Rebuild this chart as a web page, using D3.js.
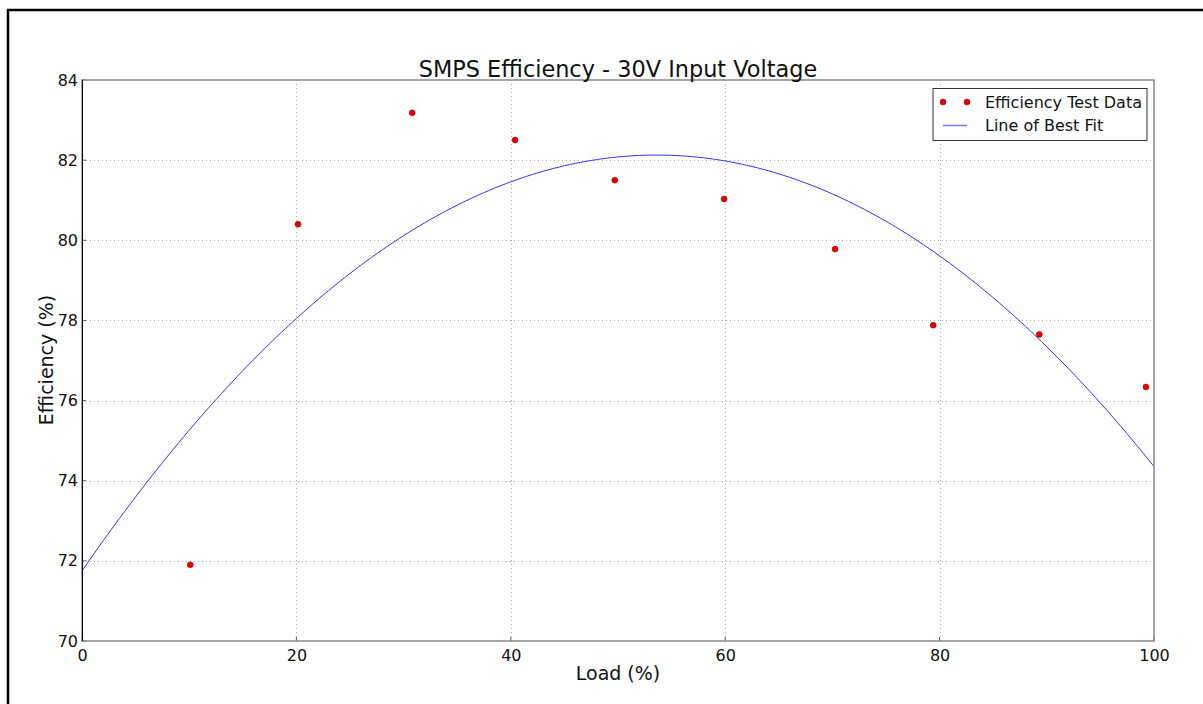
<!DOCTYPE html>
<html>
<head>
<meta charset="utf-8">
<script src="https://cdn.jsdelivr.net/npm/d3@7"></script>
<style>
  html, body { margin: 0; padding: 0; background: #fff; }
  svg { display: block; font-family: "DejaVu Sans", sans-serif; }
</style>
</head>
<body>
<svg id="chart" width="1203" height="704"></svg>
<script>
// ---- data ----
const loadPct = [10.1, 20.15, 30.8, 40.4, 49.7, 59.9, 70.25, 79.4, 89.3, 99.25];
const efficiency = [71.9, 80.4, 83.18, 82.5, 81.5, 81.03, 79.78, 77.88, 77.65, 76.34];
const xTicks = [0, 20, 40, 60, 80, 100];
const yTicks = [70, 72, 74, 76, 78, 80, 82, 84];
const title = "SMPS Efficiency - 30V Input Voltage";
const xLabel = "Load (%)";
const yLabel = "Efficiency (%)";
const legendLabels = ["Efficiency Test Data", "Line of Best Fit"];

// quadratic least-squares fit to the test data
function quadFit(xs, ys) {
  let S = [0,0,0,0,0], T = [0,0,0];
  xs.forEach((x, i) => {
    for (let k = 0; k < 5; k++) S[k] += Math.pow(x, k);
    for (let k = 0; k < 3; k++) T[k] += ys[i] * Math.pow(x, k);
  });
  const A = [[S[0],S[1],S[2],T[0]],[S[1],S[2],S[3],T[1]],[S[2],S[3],S[4],T[2]]];
  for (let i = 0; i < 3; i++) {
    let p = i;
    for (let r = i+1; r < 3; r++) if (Math.abs(A[r][i]) > Math.abs(A[p][i])) p = r;
    [A[i], A[p]] = [A[p], A[i]];
    for (let r = 0; r < 3; r++) if (r !== i) {
      const f = A[r][i] / A[i][i];
      for (let c = i; c < 4; c++) A[r][c] -= f * A[i][c];
    }
  }
  return [A[0][3]/A[0][0], A[1][3]/A[1][1], A[2][3]/A[2][2]];
}
const coef = quadFit(loadPct, efficiency);
const fitX = d3.range(0, 100.001, 0.5);
const fitPts = fitX.map(x => [x, coef[0] + coef[1]*x + coef[2]*x*x]);

// ---- layout ----
const svg = d3.select("#chart");
const L = 82, R = 1154, T = 80, B = 641;
const x = d3.scaleLinear().domain([0, 100]).range([L, R]);
const y = d3.scaleLinear().domain([70, 84]).range([B, T]);

// figure border
svg.append("rect").attr("x", 8).attr("y", 10).attr("width", 1400).attr("height", 900)
  .attr("fill", "none").attr("stroke", "#000").attr("stroke-width", 2.5);

// grid
const g = svg.append("g");
g.selectAll(".vg").data(xTicks.slice(1, -1)).enter().append("line")
  .attr("x1", d => Math.round(x(d)) + 0.5).attr("x2", d => Math.round(x(d)) + 0.5)
  .attr("y1", T).attr("y2", B)
  .attr("stroke", "#aaa").attr("stroke-width", 1).attr("stroke-dasharray", "1,3");
g.selectAll(".hg").data(yTicks.slice(1, -1)).enter().append("line")
  .attr("y1", d => Math.round(y(d)) + 0.5).attr("y2", d => Math.round(y(d)) + 0.5)
  .attr("x1", L).attr("x2", R)
  .attr("stroke", "#aaa").attr("stroke-width", 1).attr("stroke-dasharray", "1,3");

// clip
svg.append("clipPath").attr("id", "clip").append("rect")
  .attr("x", L).attr("y", T).attr("width", R - L).attr("height", B - T);

// fit line
svg.append("path").datum(fitPts).attr("clip-path", "url(#clip)")
  .attr("d", d3.line().x(d => x(d[0])).y(d => y(d[1])))
  .attr("fill", "none").attr("stroke", "#3333ff").attr("stroke-width", 1);

// points
svg.selectAll(".pt").data(loadPct).enter().append("circle")
  .attr("cx", d => x(d)).attr("cy", (d, i) => y(efficiency[i]))
  .attr("r", 3).attr("fill", "#e00000").attr("stroke", "#b00000").attr("stroke-width", 0.5);

// axes via d3
const xAxis = d3.axisBottom(x).tickValues(xTicks).tickSize(0).tickPadding(9);
const yAxis = d3.axisLeft(y).tickValues(yTicks).tickSize(0).tickPadding(4);
const gx = svg.append("g").attr("transform", `translate(0,${B})`).call(xAxis);
const gy = svg.append("g").attr("transform", `translate(${L},0)`).call(yAxis);
[gx, gy].forEach(a => {
  a.select(".domain").remove();
  a.selectAll("text").attr("font-size", 16).attr("fill", "#111")
    .attr("font-family", "DejaVu Sans, sans-serif");
});
gx.selectAll("text").attr("dy", "0.71em");

// inward tick marks
svg.selectAll(".xt").data(xTicks).enter().append("line")
  .attr("x1", d => x(d)).attr("x2", d => x(d)).attr("y1", B).attr("y2", B - 4)
  .attr("stroke", "#555").attr("stroke-width", 1);
svg.selectAll(".yt").data(yTicks).enter().append("line")
  .attr("y1", d => y(d)).attr("y2", d => y(d)).attr("x1", L).attr("x2", L + 4)
  .attr("stroke", "#555").attr("stroke-width", 1);

// spines
svg.append("rect").attr("x", L).attr("y", T).attr("width", R - L).attr("height", B - T)
  .attr("fill", "none").attr("stroke", "#888").attr("stroke-width", 1.5);
svg.append("line").attr("x1", L + 0.5).attr("x2", L + 0.5).attr("y1", T).attr("y2", B)
  .attr("stroke", "#000").attr("stroke-width", 1);

// title & labels
svg.append("text").attr("x", (L + R) / 2).attr("y", 77).attr("text-anchor", "middle")
  .attr("font-size", 22.4).attr("fill", "#111").text(title);
svg.append("text").attr("x", (L + R) / 2).attr("y", 680).attr("text-anchor", "middle")
  .attr("font-size", 19).attr("fill", "#111").text(xLabel);
svg.append("text").attr("transform", "translate(53,360) rotate(-90)").attr("text-anchor", "middle")
  .attr("font-size", 19).attr("fill", "#111").text(yLabel);

// legend
const lg = svg.append("g");
lg.append("rect").attr("x", 933).attr("y", 88.5).attr("width", 214).attr("height", 52)
  .attr("fill", "#fff").attr("stroke", "#333").attr("stroke-width", 1);
[943, 967].forEach(cx => lg.append("circle").attr("cx", cx).attr("cy", 102)
  .attr("r", 3).attr("fill", "#e00000").attr("stroke", "#b00000").attr("stroke-width", 0.5));
lg.append("line").attr("x1", 943).attr("x2", 967).attr("y1", 125.5).attr("y2", 125.5)
  .attr("stroke", "#7777ff").attr("stroke-width", 1.5);
lg.selectAll(".lt").data(legendLabels).enter().append("text")
  .attr("x", 985).attr("y", (d, i) => 107.5 + i * 23.5)
  .attr("font-size", 16).attr("fill", "#111").text(d => d);
</script>
</body>
</html>
